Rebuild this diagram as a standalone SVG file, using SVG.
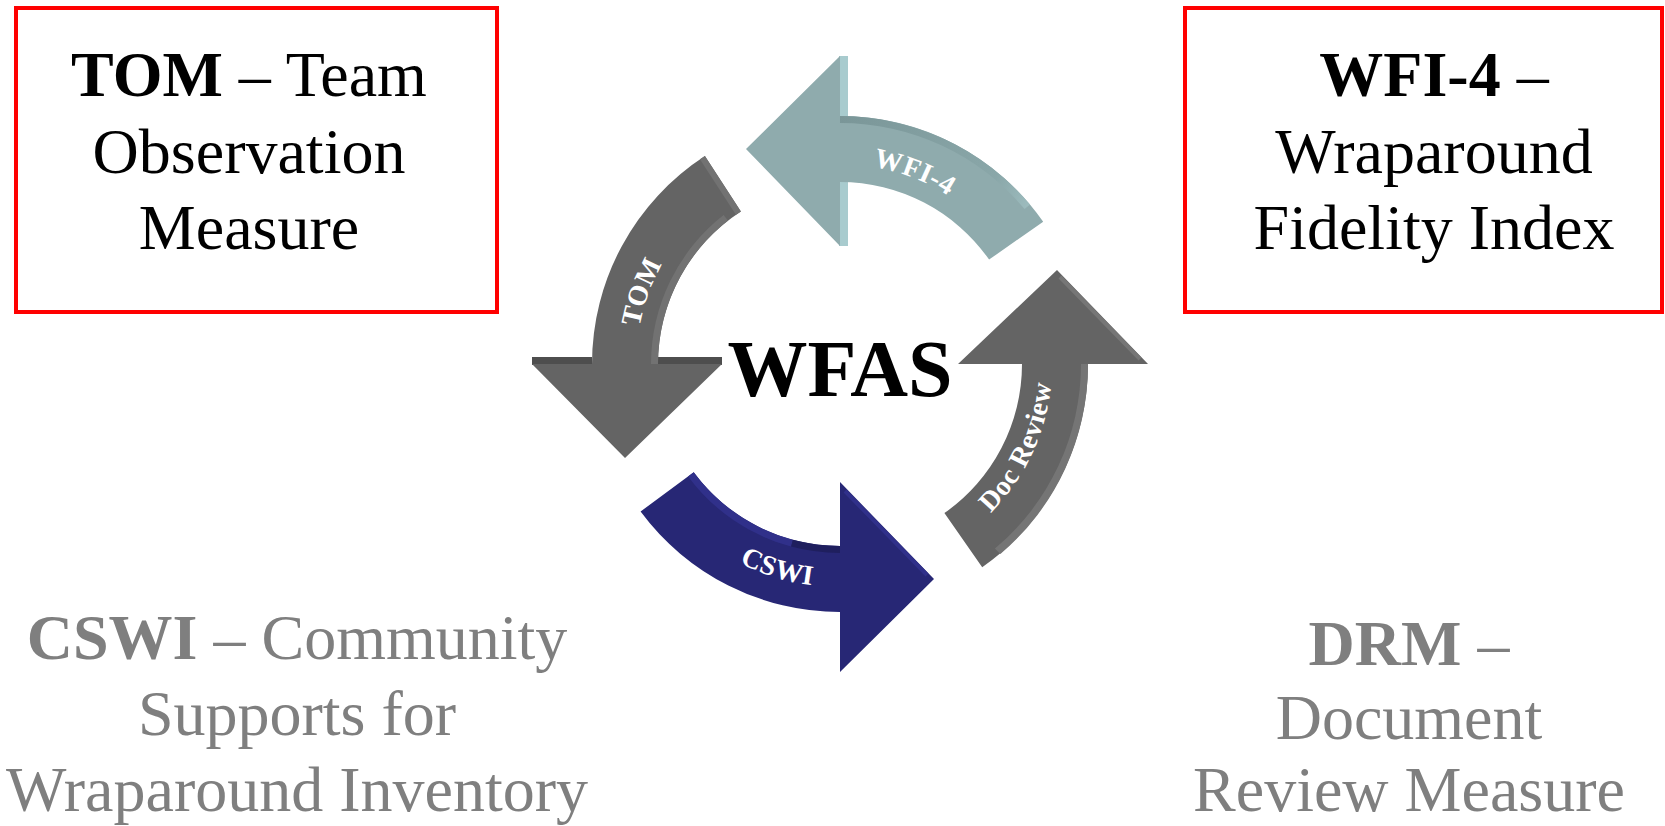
<svg xmlns="http://www.w3.org/2000/svg" width="1665" height="826" viewBox="0 0 1665 826">
<defs>
<style>
.box{fill:none;stroke:#FF0000;stroke-width:4}
.t{font-family:"Liberation Serif","Times New Roman",serif;font-size:64px;text-anchor:middle}
.blk{fill:#000}
.gry{fill:#7F7F7F}
.b{font-weight:bold}
.lbl{font-family:"Liberation Serif","Times New Roman",serif;font-size:28px;font-weight:bold;fill:#FFFFFF;letter-spacing:0.5px}
.title{font-family:"Liberation Serif","Times New Roman",serif;font-size:80px;font-weight:bold;fill:#000;text-anchor:middle}
</style>
<linearGradient id="wfiDark" gradientUnits="userSpaceOnUse" x1="840" y1="116" x2="1030" y2="205">
<stop offset="0" stop-color="#7A9698"/>
<stop offset="0.8" stop-color="#8AA7A9"/>
<stop offset="1" stop-color="#9DBCBE"/>
</linearGradient>
<path id="pWFI" d="M 775.5 174.7 A 200 200 0 0 1 1015.3 267.6"/>
<path id="pTOM" d="M 648.3 433.8 A 204 204 0 0 1 738 187.3"/>
<path id="pDOC" d="M 929.6 556.1 A 212 212 0 0 0 1044.8 309.1"/>
<path id="pCSWI" d="M 653 485.4 A 223 223 0 0 0 927.1 569.3"/>
</defs>

<g id="node-tom-box">
<rect class="box" x="16" y="8" width="481" height="304"/>
<text class="t blk" x="249" y="96"><tspan class="b">TOM</tspan> – Team</text>
<text class="t blk" x="249" y="173">Observation</text>
<text class="t blk" x="249" y="249">Measure</text>
</g>

<g id="node-wfi-box">
<rect class="box" x="1185" y="8" width="477" height="304"/>
<text class="t blk" x="1434" y="96"><tspan class="b">WFI-4</tspan> –</text>
<text class="t blk" x="1434" y="173">Wraparound</text>
<text class="t blk" x="1434" y="249">Fidelity Index</text>
</g>

<g id="node-cswi-text">
<text class="t gry" x="297" y="659"><tspan class="b">CSWI</tspan> – Community</text>
<text class="t gry" x="297" y="735">Supports for</text>
<text class="t gry" x="297" y="811">Wraparound Inventory</text>
</g>

<g id="node-drm-text">
<text class="t gry" x="1409" y="665"><tspan class="b">DRM</tspan> –</text>
<text class="t gry" x="1409" y="739">Document</text>
<text class="t gry" x="1409" y="811">Review Measure</text>
</g>

<g id="connectors">
<g id="arrow-wfi">
<rect x="839" y="56" width="9" height="62" fill="#A8CBCE"/>
<rect x="839" y="180" width="9" height="66" fill="#A8CBCE"/>
<path fill="#8FABAD" d="M 1043.2 221.7 A 248 248 0 0 0 840 116 L 840 56 L 746 149 L 840 246 L 840 182 A 182 182 0 0 1 989.1 259.6 Z"/>
<path fill="url(#wfiDark)" d="M 840 116 A 248 248 0 0 1 1030 204.6 L 1024.6 209.1 A 241 241 0 0 0 840 123 Z"/>
<text class="lbl"><textPath href="#pWFI" startOffset="50%" text-anchor="middle">WFI-4</textPath></text>
</g>
<g id="arrow-tom">
<rect x="532" y="357" width="60" height="8" fill="#4E4E4E"/>
<rect x="658" y="357" width="64" height="8" fill="#4E4E4E"/>
<path fill="#646464" d="M 704.9 156 A 248 248 0 0 0 592 364 L 532 364 L 625 458 L 722 364 L 658 364 A 182 182 0 0 1 740.9 211.4 Z"/>
<path fill="#727272" d="M 658 364 A 182 182 0 0 1 727.9 220.6 L 723.6 215.1 A 189 189 0 0 0 651 364 Z"/>
<polygon fill="#727272" points="704.9,156 740.9,211.4 735.9,214.7 699.9,159.3"/>
<text class="lbl"><textPath href="#pTOM" startOffset="50%" text-anchor="middle">TOM</textPath></text>
</g>
<g id="arrow-doc">
<path fill="#646464" d="M 982.2 567.2 A 248 248 0 0 0 1088 364 L 1148 364 L 1057 270 L 958 364 L 1022 364 A 182 182 0 0 1 944.4 513.1 Z"/>
<path fill="#757575" d="M 1088 364 A 248 248 0 0 1 1000.4 554 L 994.9 548.6 A 241 241 0 0 0 1081 364 Z"/>
<line x1="1060" y1="277" x2="1140" y2="359" stroke="#767676" stroke-width="4"/>
<text class="lbl"><textPath href="#pDOC" startOffset="50%" text-anchor="middle">Doc Review</textPath></text>
</g>
<g id="arrow-cswi">
<path fill="#272775" d="M 640.6 511.5 A 248 248 0 0 0 840 612 L 840 672 L 934 579 L 840 482 L 840 546 A 182 182 0 0 1 693.7 472.3 Z"/>
<path fill="#30308A" d="M 693.7 472.3 A 182 182 0 0 0 792.9 539.8 L 791.1 546.6 A 189 189 0 0 1 688.1 476.4 Z"/>
<path fill="#1F1F5E" d="M 792.9 539.8 A 182 182 0 0 0 840 546 L 840 553 A 189 189 0 0 1 791.1 546.6 Z"/>
<line x1="845" y1="491" x2="927" y2="575" stroke="#30308A" stroke-width="4"/>
<text class="lbl"><textPath href="#pCSWI" startOffset="50%" text-anchor="middle">CSWI</textPath></text>
</g>
</g>

<g id="node-wfas">
<text class="title" x="840" y="396">WFAS</text>
</g>
</svg>
